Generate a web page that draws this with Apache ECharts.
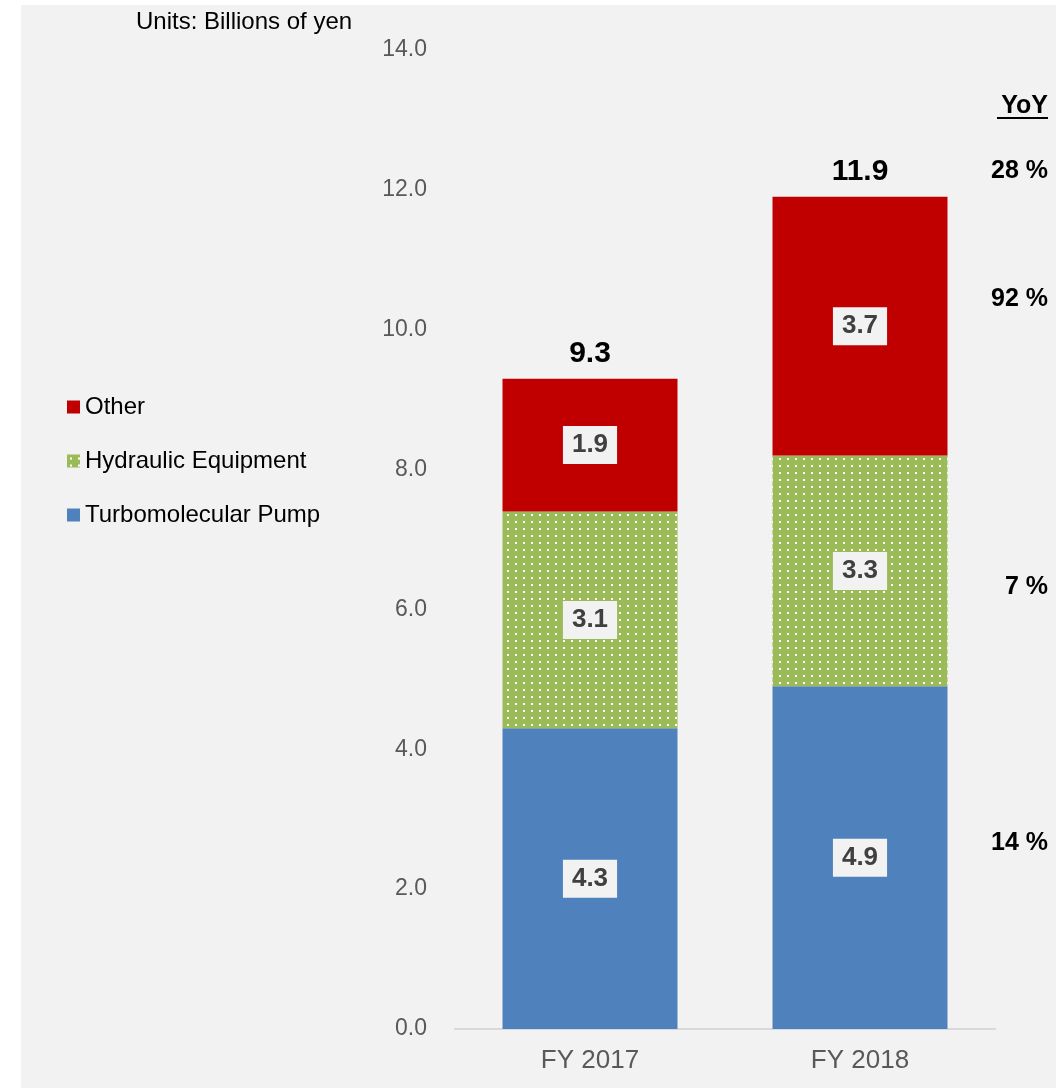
<!DOCTYPE html>
<html>
<head>
<meta charset="utf-8">
<script src="https://cdn.jsdelivr.net/npm/echarts@6/dist/echarts.min.js"></script>
<style>
  html, body { margin: 0; padding: 0; background: #ffffff; }
  #chart { width: 1058px; height: 1088px; }
</style>
</head>
<body>
<div id="chart"></div>
<script>
// Sales by product line, billions of yen
const categories = ['FY 2017', 'FY 2018'];
const turbomolecularPump = [4.3, 4.9];
const hydraulicEquipment = [3.1, 3.3];
const other = [1.9, 3.7];
const yoyLabels = ['28 %', '92 %', '7 %', '14 %'];
const yTicks = [0, 2, 4, 6, 8, 10, 12, 14];

const totals = categories.map((_, i) =>
  Math.round((turbomolecularPump[i] + hydraulicEquipment[i] + other[i]) * 10) / 10);

// dotted fill for the hydraulic segment
function dotPattern() {
  const c = document.createElement('canvas');
  c.width = 8; c.height = 7;
  const g = c.getContext('2d');
  g.fillStyle = '#9bbb59';
  g.fillRect(0, 0, 8, 7);
  g.fillStyle = '#ffffff';
  g.fillRect(3, 3, 2, 2);
  return c;
}
const green = { image: dotPattern(), repeat: 'repeat' };

const FONT = '"Liberation Sans", Arial, sans-serif';

const segLabel = {
  show: true,
  position: 'inside',
  formatter: p => p.value.toFixed(1),
  fontFamily: FONT,
  fontSize: 26,
  fontWeight: 'bold',
  color: '#404040',
  backgroundColor: '#f2f2f2',
  padding: [7, 9, 5, 9]
};

const chart = echarts.init(document.getElementById('chart'), null, { renderer: 'canvas' });

const yoyY = [171, 299, 587, 843];

chart.setOption({
  backgroundColor: '#ffffff',
  animation: false,
  textStyle: { fontFamily: FONT },
  graphic: [
    { type: 'rect', z: -10, silent: true,
      shape: { x: 21, y: 5, width: 1035, height: 1083 },
      style: { fill: '#f2f2f2' } },
    { type: 'text', x: 136, y: 22,
      style: { text: 'Units: Billions of yen', fontFamily: FONT, fontSize: 24, fill: '#000000',
               verticalAlign: 'middle' } },
    { type: 'text', x: 1048, y: 106,
      style: { text: 'YoY', fontFamily: FONT, fontSize: 25, fontWeight: 'bold', fill: '#000000',
               align: 'right', verticalAlign: 'middle' } },
    { type: 'line', shape: { x1: 997, y1: 118, x2: 1048, y2: 118 },
      style: { stroke: '#000000', lineWidth: 2 } }
  ].concat(yoyLabels.map((t, i) => ({
    type: 'text', x: 1048, y: yoyY[i],
    style: { text: t, fontFamily: FONT, fontSize: 25, fontWeight: 'bold', fill: '#000000',
             align: 'right', verticalAlign: 'middle' }
  }))),
  legend: {
    orient: 'vertical',
    left: 62,
    top: 390,
    icon: 'rect',
    itemWidth: 13,
    itemHeight: 13,
    itemGap: 30,
    data: ['Other', 'Hydraulic Equipment', 'Turbomolecular Pump'],
    textStyle: { fontFamily: FONT, fontSize: 24, color: '#000000', padding: [0, 0, 0, 0] },
    selectedMode: false
  },
  grid: { left: 455, right: 63, top: 50, bottom: 59, containLabel: false },
  xAxis: {
    type: 'category',
    data: categories,
    axisLine: { lineStyle: { color: '#d9d9d9', width: 2 } },
    axisTick: { show: false },
    axisLabel: { fontFamily: FONT, fontSize: 26, color: '#595959', margin: 19 }
  },
  yAxis: {
    type: 'value',
    min: yTicks[0],
    max: yTicks[yTicks.length - 1],
    interval: 2,
    axisLine: { show: false },
    axisTick: { show: false },
    splitLine: { show: false },
    axisLabel: { fontFamily: FONT, fontSize: 23, color: '#595959', margin: 28,
                 formatter: v => v.toFixed(1) }
  },
  series: [
    { name: 'Turbomolecular Pump', type: 'bar', stack: 's', barWidth: 175,
      data: turbomolecularPump, itemStyle: { color: '#4f81bd' }, label: segLabel },
    { name: 'Hydraulic Equipment', type: 'bar', stack: 's',
      data: hydraulicEquipment, itemStyle: { color: green }, label: segLabel },
    { name: 'Other', type: 'bar', stack: 's',
      data: other, itemStyle: { color: '#c00000' }, label: segLabel },
    { name: 'Total', type: 'bar', stack: 's',
      data: totals.map(() => 0),
      itemStyle: { color: 'transparent' },
      label: { show: true, position: 'top', distance: 10,
               formatter: p => totals[p.dataIndex].toFixed(1),
               fontFamily: FONT, fontSize: 30, fontWeight: 'bold', color: '#000000' } }
  ]
});
</script>
</body>
</html>
